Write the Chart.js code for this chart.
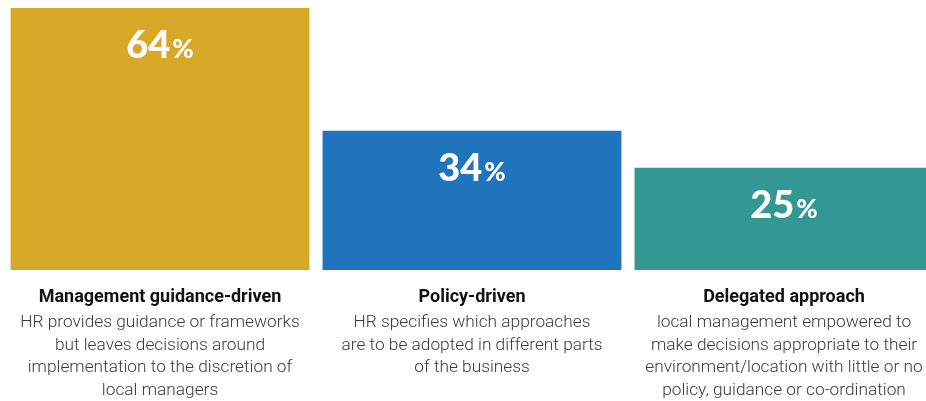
<!DOCTYPE html>
<html>
<head>
<meta charset="utf-8">
<script src="https://cdn.jsdelivr.net/npm/chart.js@4"></script>
<style>
  html, body { margin: 0; padding: 0; background: #fff; overflow: hidden; }
  #wrap { position: relative; width: 940px; height: 401px; }
</style>
</head>
<body>
<div id="wrap"><canvas id="chart"></canvas></div>
<script>
// Approaches to managing HR across the organisation (share of respondents, %)
const categories = ['Management guidance-driven', 'Policy-driven', 'Delegated approach'];
const descriptions = [
  ['HR provides guidance or frameworks', 'but leaves decisions around', 'implementation to the discretion of', 'local managers'],
  ['HR specifies which approaches', 'are to be adopted in different parts', 'of the business'],
  ['local management empowered to', 'make decisions appropriate to their', 'environment/location with little or no', 'policy, guidance or co-ordination']
];
const shares = [64, 34, 25];
const barColors = ['#D8A928', '#1F74BD', '#339894'];

// Percentage label inside the top of each bar
const valueLabels = {
  id: 'valueLabels',
  afterDatasetsDraw(chart) {
    const ctx = chart.ctx;
    const meta = chart.getDatasetMeta(0);
    ctx.save();
    ctx.fillStyle = '#ffffff';
    ctx.textBaseline = 'alphabetic';
    meta.data.forEach((bar, i) => {
      const num = String(shares[i]);
      ctx.font = '900 38px Lato';
      const wNum = ctx.measureText(num).width;
      ctx.font = '900 26px Lato';
      const wPct = ctx.measureText('%').width;
      const gap = 2;
      const x0 = bar.x - (wNum + gap + wPct) / 2;
      const y = bar.y + 50;
      ctx.font = '900 38px Lato';
      ctx.textAlign = 'left';
      ctx.fillText(num, x0, y);
      ctx.font = '900 26px Lato';
      ctx.fillText('%', x0 + wNum + gap, y);
    });
    ctx.restore();
  }
};

// Category title and description beneath each bar
const categoryText = {
  id: 'categoryText',
  afterDraw(chart) {
    const ctx = chart.ctx;
    const xs = chart.scales.x;
    const base = chart.chartArea.bottom;
    ctx.save();
    ctx.textAlign = 'center';
    ctx.textBaseline = 'alphabetic';
    categories.forEach((name, i) => {
      const x = xs.getPixelForValue(i);
      ctx.font = 'bold 18px Roboto';
      ctx.fillStyle = '#111111';
      ctx.fillText(name, x, base + 32);
      ctx.font = '300 17.3px Roboto';
      ctx.fillStyle = '#3a3a3a';
      descriptions[i].forEach((line, j) => {
        ctx.fillText(line, x, base + 57 + j * 22.5);
      });
    });
    ctx.restore();
  }
};

new Chart(document.getElementById('chart'), {
  type: 'bar',
  data: {
    labels: categories,
    datasets: [{
      data: shares,
      backgroundColor: barColors,
      borderWidth: 0,
      barPercentage: 0.958,
      categoryPercentage: 1.0
    }]
  },
  options: {
    responsive: true,
    maintainAspectRatio: false,
    animation: false,
    layout: { padding: { left: 4, right: 0, top: 8, bottom: 131 } },
    plugins: { legend: { display: false }, tooltip: { enabled: false } },
    scales: {
      x: { display: false },
      y: { display: false, min: 0, max: 64 }
    }
  },
  plugins: [valueLabels, categoryText]
});
</script>
</body>
</html>
